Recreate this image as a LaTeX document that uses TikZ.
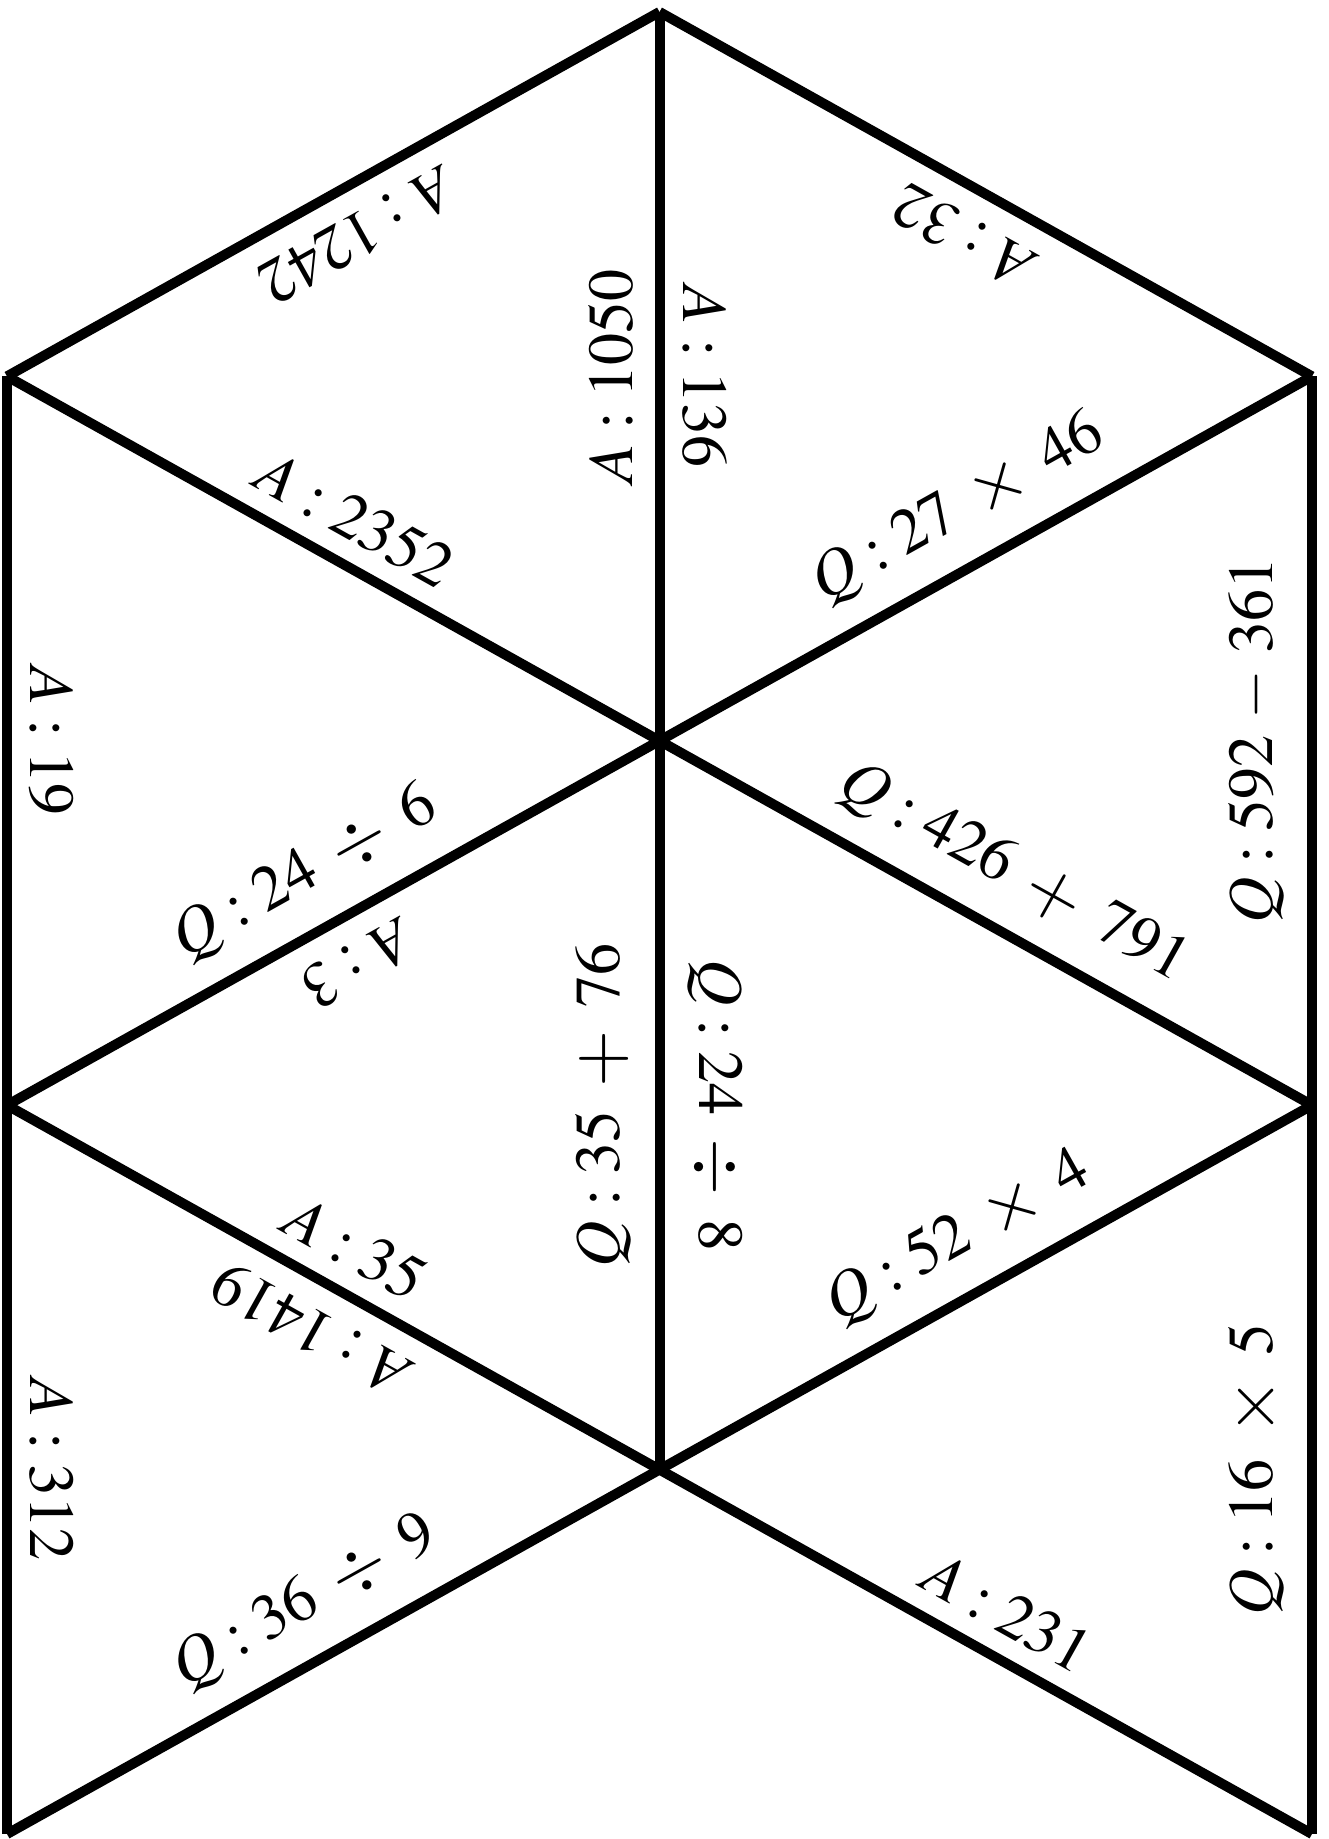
\documentclass[tikz,border=0pt]{standalone}
\usepackage{mathptmx}
\usepackage{graphicx}
\usetikzlibrary{calc}
\newcommand\bop[1]{\mathbin{\mkern4mu\raisebox{-0.04em}{\scalebox{1.15}{$#1$}}\mkern4mu}}
\newcommand\mop{\mathbin{\mkern2mu{-}\mkern2mu}}
% name, from, to, fraction, angle, offset, text
\newcommand\elabel[7]{\node[lab,rotate={#5}] (#1) at ($(#2)!#4!(#3)+({#5+90}:#6)$) {$#7$};}
\begin{document}
\begin{tikzpicture}[x=1pt,y=1pt,
  edge/.style={line width=10pt,line cap=butt,line join=miter},
  lab/.style={inner sep=0pt,outer sep=0pt,anchor=base,font=\fontsize{64}{64}\selectfont}]
\useasboundingbox (0,0) rectangle (1329,1839);
\pgfmathsetmacro{\ang}{atan(364.4/652.5)}
\coordinate (a) at (659.5,1827);
\coordinate (l1) at (7,1462.6);
\coordinate (r1) at (1312,1462.6);
\coordinate (c1) at (659.5,1098.2);
\coordinate (l2) at (7,733.8);
\coordinate (r2) at (1312,733.8);
\coordinate (c2) at (659.5,369.4);
\coordinate (l3) at (7,5);
\coordinate (r3) at (1312,5);
\draw[edge] (l1) -- (a);
\draw[edge] (r1) -- (a);
\draw[edge] (a) -- (c2);
\draw[edge] (l1) -- (l3);
\draw[edge] (r1) -- (r3);
\draw[edge] (l1) -- (r2);
\draw[edge] (r1) -- (l2);
\draw[edge] (l2) -- (r3);
\draw[edge] (r2) -- (l3);
% T1
\elabel{t1a}{a}{l1}{0.5}{180+\ang}{27}{A : 1242}
\elabel{t1b}{a}{c1}{0.5}{90}{27}{A : 1050}
\elabel{t1c}{l1}{c1}{0.5}{-\ang}{24}{A : 2352}
% T2
\elabel{t2a}{a}{r1}{0.5}{180-\ang}{27}{A : 32}
\elabel{t2b}{a}{c1}{0.5}{-90}{24}{A : 136}
\elabel{t2c}{r1}{c1}{0.5}{\ang}{41}{Q : 27 \bop\times 46}
% T3
\elabel{t3a}{l1}{l2}{0.5}{-90}{23}{A : 19}
\elabel{t3b}{c1}{l2}{0.5}{\ang}{41}{Q : 24 \bop\div 6}
% T4
\elabel{t4a}{r1}{r2}{0.5}{90}{40}{Q : 592 \mop 361}
\elabel{t4b}{c1}{r2}{0.5}{-\ang}{41}{Q : 426 \bop+ 791}
% T5
\elabel{t5a}{c1}{l2}{0.5}{180+\ang}{27}{A : 3}
\elabel{t5b}{c1}{c2}{0.5}{90}{40}{Q : 35 \bop+ 76}
\elabel{t5c}{l2}{c2}{0.5}{-\ang}{24}{A : 35}
% T6
\elabel{t6a}{c1}{c2}{0.5}{-90}{40}{Q : 24 \bop\div 8}
\elabel{t6b}{r2}{c2}{0.5}{\ang}{41}{Q : 52 \bop\times 4}
% T7
\elabel{t7a}{l2}{c2}{0.5}{180-\ang}{27}{A : 1419}
\elabel{t7b}{l2}{l3}{0.5}{-90}{23}{A : 312}
\elabel{t7c}{c2}{l3}{0.5}{\ang}{41}{Q : 36 \bop\div 9}
% T8
\elabel{t8a}{r2}{r3}{0.5}{90}{40}{Q : 16 \bop\times 5}
\elabel{t8b}{c2}{r3}{0.5}{-\ang}{24}{A : 231}
\end{tikzpicture}
\end{document}
